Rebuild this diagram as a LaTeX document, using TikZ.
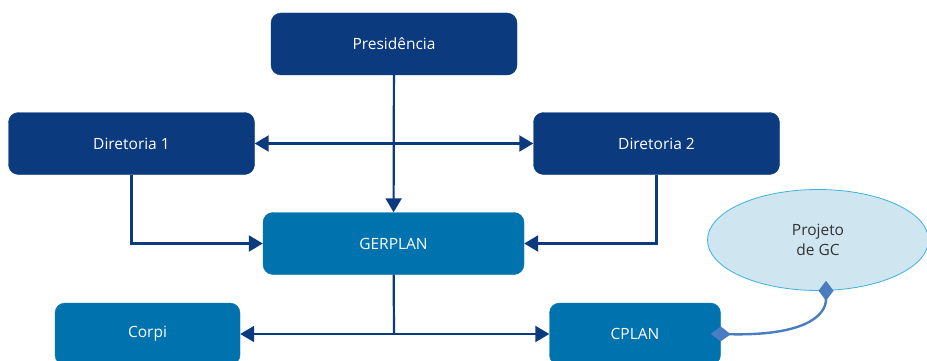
\documentclass[tikz,border=0pt]{standalone}
\usepackage{fontspec}
\setmainfont{Open Sans}
\usepackage{xcolor}
\usepackage{tikz}
\usetikzlibrary{arrows.meta,shapes,shapes.geometric}
\usetikzlibrary{positioning}

\definecolor{navy}{HTML}{0B3A7F}
\definecolor{midblue}{HTML}{0072AE}
\definecolor{gcfill}{HTML}{CFE6F0}
\definecolor{gcline}{HTML}{3BB3E0}
\definecolor{linkblue}{HTML}{4A7DC0}

\begin{document}
\begin{tikzpicture}[x=1pt,y=-1pt]
\tikzstyle{every node}=[font=\fontsize{15.5}{20}\selectfont];
\tikzstyle{topbox}=[draw=navy,fill=navy,text=white,rounded corners=10pt,minimum width=246pt,minimum height=62pt];
\tikzstyle{planbox}=[draw=midblue,fill=midblue,text=white,rounded corners=10pt,minimum height=62pt];
\tikzstyle{flow}=[draw=navy,line width=2.2pt,-{Triangle[length=14pt,width=16pt]}];

\clip (0,0) rectangle (927,361);
\fill[white] (0,0) rectangle (927,361);

\node[topbox] (pres) at (394,44) {Presidência};
\node[topbox] (dir1) at (131.5,143.5) {Diretoria 1};
\node[topbox] (dir2) at (656.5,143.5) {Diretoria 2};
\node[planbox,minimum width=261pt] (gerplan) at (393.5,243.5) {GERPLAN};
\node[planbox,minimum width=185pt] (corpi) at (147.5,334) {Corpi};
\node[planbox,minimum width=171pt] (cplan) at (635,334) {CPLAN};
\node[ellipse,draw=gcline,fill=gcfill,line width=0.8pt,minimum width=221pt,minimum height=101pt,align=center,text=black!80] (gc) at (818,240) {Projeto\\de GC};

\coordinate (mid) at (394,334);
\path[flow] (pres) -- (gerplan);
\path[flow,{Triangle[length=14pt,width=16pt]}-{Triangle[length=14pt,width=16pt]}] (dir1) -- (dir2);
\path[flow] (dir1.south) |- (gerplan.west);
\path[flow] (dir2.south) |- (gerplan.east);
\path[draw=navy,line width=2.2pt] (gerplan) -- (mid);
\path[flow] (mid) -- (corpi.east);
\path[flow] (mid) -- (cplan.east -| cplan.west);
\path[draw=linkblue,line width=2.4pt,{Diamond[length=20pt,width=15pt]}-{Diamond[length=20pt,width=15pt]},shorten <=-10pt,shorten >=-10pt] (cplan.east) .. controls (800,336) and (826,318) .. (gc.-81);
\end{tikzpicture}
\end{document}
